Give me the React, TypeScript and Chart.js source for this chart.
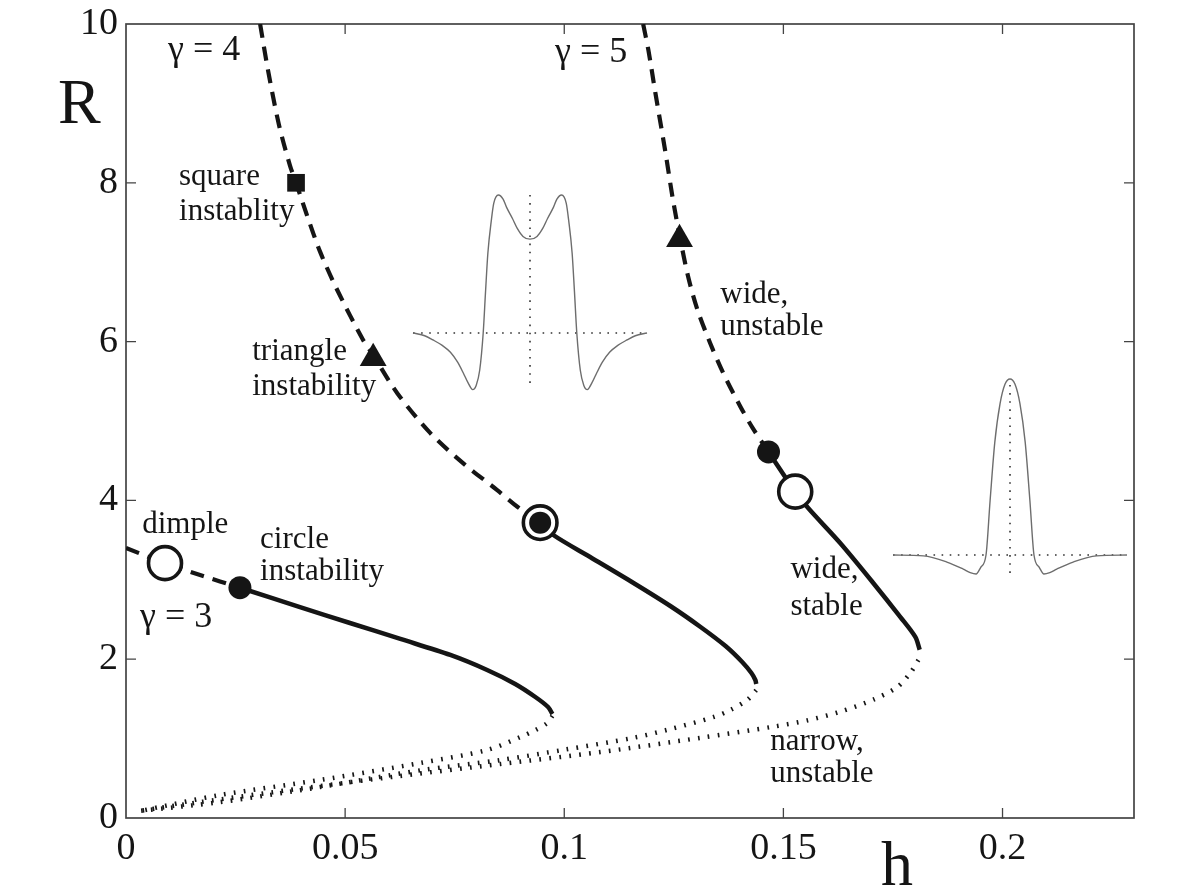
import React, { useEffect, useRef } from "react";
import { Chart, registerables } from "chart.js";

Chart.register(...registerables);

const FONT = "'Liberation Serif', 'DejaVu Serif', serif";
const INK = "#151515";

// ---------- axes ----------
const H_TICKS = [0, 0.05, 0.1, 0.15, 0.2];
const H_TICK_LABELS = ["0", "0.05", "0.1", "0.15", "0.2"];
const R_TICKS = [0, 2, 4, 6, 8, 10];
const R_TICK_LABELS = ["0", "2", "4", "6", "8", "10"];

// ---------- gamma = 3 ----------
const G3_DASH_H = [0.0, 0.0089, 0.0169, 0.026];
const G3_DASH_R = [3.4, 3.21, 3.06, 2.9];
const G3_SOLID_H = [0.026, 0.0397, 0.0511, 0.0626, 0.074, 0.0824, 0.0888, 0.0934, 0.0963, 0.0973];
const G3_SOLID_R = [2.9, 2.657, 2.456, 2.255, 2.053, 1.864, 1.688, 1.524, 1.398, 1.31];
const G3_DOT_H = [0.0973, 0.0961, 0.0934, 0.09, 0.0824, 0.0671, 0.0443, 0.0215, 0.0032];
const G3_DOT_R = [1.285, 1.196, 1.108, 1.02, 0.856, 0.693, 0.479, 0.29, 0.088];

// ---------- gamma = 4 ----------
const G4_DASH_H = [0.0306, 0.0324, 0.0349, 0.0374, 0.0388, 0.0413, 0.0443, 0.0482, 0.0541, 0.0564, 0.0619, 0.0694, 0.0769, 0.0847, 0.0893, 0.0945];
const G4_DASH_R = [10.0, 9.42, 8.73, 8.22, 8.0, 7.59, 7.13, 6.65, 6.02, 5.83, 5.35, 4.85, 4.47, 4.13, 3.92, 3.72];
const G4_SOLID_H = [0.0945, 0.0975, 0.1059, 0.1158, 0.1242, 0.1311, 0.1368, 0.1406, 0.1427, 0.1436, 0.1438];
const G4_SOLID_R = [3.72, 3.564, 3.287, 2.96, 2.67, 2.406, 2.166, 1.965, 1.826, 1.738, 1.688];
const G4_DOT_H = [0.1438, 0.1418, 0.1379, 0.134, 0.1235, 0.1158, 0.1, 0.0854, 0.0671, 0.0443, 0.0215, 0.0032];
const G4_DOT_R = [1.61, 1.49, 1.36, 1.27, 1.11, 1.01, 0.86, 0.73, 0.6, 0.39, 0.2, 0.09];

// ---------- gamma = 5 ----------
const G5_DASH_H = [0.118, 0.1192, 0.1208, 0.1231, 0.1247, 0.1263, 0.1283, 0.1304, 0.1333, 0.1363, 0.1402, 0.1429, 0.1466];
const G5_DASH_R = [10.0, 9.67, 9.13, 8.38, 7.82, 7.34, 6.81, 6.4, 5.98, 5.6, 5.18, 4.92, 4.61];
const G5_SOLID_H = [0.1466, 0.1527, 0.1557, 0.163, 0.1705, 0.1767, 0.1801, 0.1811];
const G5_SOLID_R = [4.61, 4.11, 3.9, 3.46, 2.96, 2.53, 2.28, 2.12];
const G5_DOT_H = [0.1808, 0.179, 0.176, 0.1705, 0.163, 0.1555, 0.1477, 0.1311, 0.1082, 0.0854, 0.0626, 0.0397, 0.0169, 0.0032];
const G5_DOT_R = [1.99, 1.83, 1.65, 1.49, 1.34, 1.23, 1.15, 1.01, 0.83, 0.68, 0.53, 0.37, 0.2, 0.09];

// ---------- markers ----------
const FILLED_H = [0.026, 0.1466];
const FILLED_R = [2.9, 4.61];
const OPEN_H = [0.0089, 0.1527];
const OPEN_R = [3.21, 4.11];
const DOUBLE_H = [0.0945];
const DOUBLE_R = [3.72];
const SQUARE_H = [0.0388];
const SQUARE_R = [8.0];
const TRI_H = [0.0564, 0.1263];
const TRI_R = [5.79, 7.29];

// ---------- inset profiles (s: position, u: amplitude, peak = 1) ----------
const INSET1_S = [-1.0, -0.9, -0.83, -0.75, -0.68, -0.62, -0.57, -0.53, -0.49, -0.46, -0.43, -0.4, -0.38, -0.36, -0.33, -0.31, -0.27, -0.23, -0.2, -0.15, -0.11, -0.06, 0.0,
  0.06, 0.11, 0.15, 0.2, 0.23, 0.27, 0.31, 0.33, 0.36, 0.38, 0.4, 0.43, 0.46, 0.49, 0.53, 0.57, 0.62, 0.68, 0.75, 0.83, 0.9, 1.0];
const INSET1_U = [0.0, -0.02, -0.05, -0.09, -0.14, -0.21, -0.29, -0.36, -0.41, -0.38, -0.27, 0.0, 0.3, 0.58, 0.82, 0.94, 1.0, 0.97, 0.91, 0.83, 0.76, 0.7, 0.68,
  0.7, 0.76, 0.83, 0.91, 0.97, 1.0, 0.94, 0.82, 0.58, 0.3, 0.0, -0.27, -0.38, -0.41, -0.36, -0.29, -0.21, -0.14, -0.09, -0.05, -0.02, 0.0];
const INSET1_AXIS_S = [-1, 1];
const INSET1_AXIS_U = [0, 0];
const INSET1_VERT_S = [0, 0];
const INSET1_VERT_U = [1.0, -0.41];

const INSET2_S = [-1.0, -0.74, -0.54, -0.4, -0.34, -0.29, -0.25, -0.205, -0.17, -0.13, -0.085, -0.043, 0.0,
  0.043, 0.085, 0.13, 0.17, 0.205, 0.25, 0.29, 0.34, 0.4, 0.54, 0.74, 1.0];
const INSET2_U = [0.0, -0.005, -0.04, -0.08, -0.1, -0.108, -0.07, 0.0, 0.31, 0.64, 0.86, 0.97, 1.0,
  0.97, 0.86, 0.64, 0.31, 0.0, -0.07, -0.108, -0.1, -0.08, -0.04, -0.005, 0.0];
const INSET2_AXIS_S = [-1, 1];
const INSET2_AXIS_U = [0, 0];
const INSET2_VERT_S = [0, 0];
const INSET2_VERT_U = [0.966, -0.108];

// ---------- layout (pixels) ----------
const CA = { left: 126, right: 1134, top: 24, bottom: 818 };
const INSET1_BOX = { leftPx: 413, rightPx: 647, zeroPx: 333, onePx: 195 };
const INSET2_BOX = { leftPx: 893, rightPx: 1127, zeroPx: 555, onePx: 379 };

function insetScales(box: { leftPx: number; rightPx: number; zeroPx: number; onePx: number }) {
  const half = (box.rightPx - box.leftPx) / 2;
  const sMin = -1 - (box.leftPx - CA.left) / half;
  const sMax = sMin + (CA.right - CA.left) / half;
  const unit = box.zeroPx - box.onePx;
  const uMin = -(CA.bottom - box.zeroPx) / unit;
  const uMax = uMin + (CA.bottom - CA.top) / unit;
  return { sMin, sMax, uMin, uMax };
}

// ---------- annotations (data coordinates) ----------
const LABEL_TEXT = ["γ = 4", "γ = 5", "γ = 3", "square", "instablity", "triangle", "instability", "dimple", "circle", "instability", "wide,", "unstable", "wide,", "stable", "narrow,", "unstable"];
const LABEL_H = [0.0096, 0.0979, 0.0032, 0.0121, 0.0121, 0.0288, 0.0288, 0.0037, 0.0306, 0.0306, 0.1356, 0.1356, 0.1516, 0.1516, 0.147, 0.147];
const LABEL_R = [9.55, 9.52, 2.41, 7.97, 7.53, 5.77, 5.33, 3.59, 3.4, 3.0, 6.49, 6.08, 3.02, 2.56, 0.86, 0.45];
const LABEL_SIZE = [36, 36, 36, 31, 31, 31, 31, 31, 31, 31, 31, 31, 31, 31, 31, 31];

const pts = (xs: number[], ys: number[]) => xs.map((x, i) => ({ x, y: ys[i] }));

const overlay = {
  id: "overlay",
  beforeDatasetsDraw(chart: any) {
    const { ctx, chartArea: a, scales } = chart;
    ctx.save();
    ctx.strokeStyle = "#444";
    ctx.lineWidth = 1.7;
    ctx.strokeRect(a.left, a.top, a.right - a.left, a.bottom - a.top);
    ctx.lineWidth = 1.3;
    ctx.beginPath();
    H_TICKS.forEach((v) => {
      const x = scales.x.getPixelForValue(v);
      if (v === 0) return;
      ctx.moveTo(x, a.bottom);
      ctx.lineTo(x, a.bottom - 10);
      ctx.moveTo(x, a.top);
      ctx.lineTo(x, a.top + 10);
    });
    R_TICKS.forEach((v) => {
      const y = scales.y.getPixelForValue(v);
      if (v === 0 || v === 10) return;
      ctx.moveTo(a.left, y);
      ctx.lineTo(a.left + 10, y);
      ctx.moveTo(a.right, y);
      ctx.lineTo(a.right - 10, y);
    });
    ctx.stroke();
    ctx.restore();
  },
  afterDraw(chart: any) {
    const { ctx, chartArea: a, scales } = chart;
    ctx.save();
    ctx.fillStyle = INK;
    ctx.textAlign = "left";
    ctx.textBaseline = "alphabetic";
    LABEL_TEXT.forEach((t, i) => {
      ctx.font = `${LABEL_SIZE[i]}px ${FONT}`;
      ctx.fillText(t, scales.x.getPixelForValue(LABEL_H[i]), scales.y.getPixelForValue(LABEL_R[i]));
    });
    ctx.font = `64px ${FONT}`;
    ctx.fillText("R", a.left - 68, a.top + 99);
    ctx.fillText("h", a.left + 755, a.bottom + 67);
    ctx.restore();
  },
};

export default function App() {
  const ref = useRef<HTMLCanvasElement>(null);

  useEffect(() => {
    const canvas = ref.current;
    if (!canvas) return;
    const i1 = insetScales(INSET1_BOX);
    const i2 = insetScales(INSET2_BOX);

    const dashed = { borderColor: INK, borderWidth: 4.2, borderDash: [14, 9], borderCapStyle: "butt", pointRadius: 0, tension: 0.3, fill: false, order: 10 };
    const solid = { borderColor: INK, borderWidth: 4.5, pointRadius: 0, tension: 0.3, fill: false, order: 10 };
    const dotted = { borderColor: INK, borderWidth: 4.5, borderDash: [1.7, 8.3], borderCapStyle: "butt", pointRadius: 0, tension: 0.3, fill: false, order: 10 };
    const insetLine = { borderColor: "#6d6d6d", borderWidth: 1.4, pointRadius: 0, fill: false, cubicInterpolationMode: "monotone", order: 12 };
    const insetDots = { borderColor: "#333", borderWidth: 1.6, borderDash: [1.6, 6.5], pointRadius: 0, fill: false, order: 13 };
    const marker = { showLine: false, clip: false, pointBorderColor: INK, pointBackgroundColor: INK, pointHoverRadius: 0 };

    const datasets: any[] = [
      // markers
      { ...marker, data: pts(FILLED_H, FILLED_R), pointStyle: "circle", pointRadius: 11.5, pointBorderWidth: 0, order: 1 },
      { ...marker, data: pts(DOUBLE_H, DOUBLE_R), pointStyle: "circle", pointRadius: 11, pointBorderWidth: 0, order: 1 },
      { ...marker, data: pts(DOUBLE_H, DOUBLE_R), pointStyle: "circle", pointRadius: 16.8, pointBorderWidth: 3.6, pointBackgroundColor: "#fff", order: 2 },
      { ...marker, data: pts(OPEN_H, OPEN_R), pointStyle: "circle", pointRadius: 16.5, pointBorderWidth: 3.6, pointBackgroundColor: "#fff", order: 2 },
      { ...marker, data: pts(SQUARE_H, SQUARE_R), pointStyle: "rect", pointRadius: 12.5, pointBorderWidth: 0, order: 1 },
      { ...marker, data: pts(TRI_H, TRI_R), pointStyle: "triangle", pointRadius: 15.5, pointBorderWidth: 0, order: 1 },
      // curves
      { ...dashed, data: pts(G3_DASH_H, G3_DASH_R) },
      { ...solid, data: pts(G3_SOLID_H, G3_SOLID_R) },
      { ...dotted, data: pts(G3_DOT_H, G3_DOT_R) },
      { ...dashed, data: pts(G4_DASH_H, G4_DASH_R) },
      { ...solid, data: pts(G4_SOLID_H, G4_SOLID_R) },
      { ...dotted, data: pts(G4_DOT_H, G4_DOT_R) },
      { ...dashed, data: pts(G5_DASH_H, G5_DASH_R) },
      { ...solid, data: pts(G5_SOLID_H, G5_SOLID_R) },
      { ...dotted, data: pts(G5_DOT_H, G5_DOT_R) },
      // insets
      { ...insetLine, data: pts(INSET1_S, INSET1_U), xAxisID: "ix1", yAxisID: "iy1" },
      { ...insetDots, data: pts(INSET1_AXIS_S, INSET1_AXIS_U), xAxisID: "ix1", yAxisID: "iy1" },
      { ...insetDots, data: pts(INSET1_VERT_S, INSET1_VERT_U), xAxisID: "ix1", yAxisID: "iy1" },
      { ...insetLine, data: pts(INSET2_S, INSET2_U), xAxisID: "ix2", yAxisID: "iy2" },
      { ...insetDots, data: pts(INSET2_AXIS_S, INSET2_AXIS_U), xAxisID: "ix2", yAxisID: "iy2" },
      { ...insetDots, data: pts(INSET2_VERT_S, INSET2_VERT_U), xAxisID: "ix2", yAxisID: "iy2" },
    ];

    const tickFont = { family: FONT, size: 38 };
    const chart = new Chart(canvas, {
      type: "line",
      data: { datasets },
      options: {
        animation: false,
        responsive: false,
        devicePixelRatio: 1,
        events: [],
        layout: { padding: { left: 0, top: CA.top, right: 1179 - CA.right, bottom: 0 } },
        plugins: { legend: { display: false }, tooltip: { enabled: false } },
        scales: {
          x: {
            type: "linear",
            min: 0,
            max: 0.23,
            afterBuildTicks: (s: any) => { s.ticks = H_TICKS.map((v) => ({ value: v })); },
            afterFit: (s: any) => { s.height = 891 - CA.bottom; s.paddingLeft = 0; s.paddingRight = 0; },
            ticks: {
              autoSkip: false,
              maxRotation: 0,
              padding: 8,
              color: INK,
              font: tickFont,
              callback: (v: any) => H_TICK_LABELS[H_TICKS.indexOf(Number(v))] ?? "",
            },
            grid: { display: false, drawTicks: false },
            border: { display: false },
          },
          y: {
            type: "linear",
            min: 0,
            max: 10,
            afterBuildTicks: (s: any) => { s.ticks = R_TICKS.map((v) => ({ value: v })); },
            afterFit: (s: any) => { s.width = CA.left; s.paddingTop = 0; s.paddingBottom = 0; },
            ticks: {
              autoSkip: false,
              padding: 8,
              color: INK,
              font: tickFont,
              callback: (v: any) => R_TICK_LABELS[R_TICKS.indexOf(Number(v))] ?? "",
            },
            grid: { display: false, drawTicks: false },
            border: { display: false },
          },
          ix1: { type: "linear", axis: "x", position: "bottom", display: false, min: i1.sMin, max: i1.sMax },
          iy1: { type: "linear", axis: "y", position: "left", display: false, min: i1.uMin, max: i1.uMax },
          ix2: { type: "linear", axis: "x", position: "bottom", display: false, min: i2.sMin, max: i2.sMax },
          iy2: { type: "linear", axis: "y", position: "left", display: false, min: i2.uMin, max: i2.uMax },
        },
      } as any,
      plugins: [overlay],
    });
    return () => chart.destroy();
  }, []);

  return (
    <div style={{ position: "fixed", left: 0, top: 0, width: 1179, height: 891, background: "#fff" }}>
      <canvas ref={ref} width={1179} height={891} style={{ display: "block", width: 1179, height: 891 }} />
    </div>
  );
}
